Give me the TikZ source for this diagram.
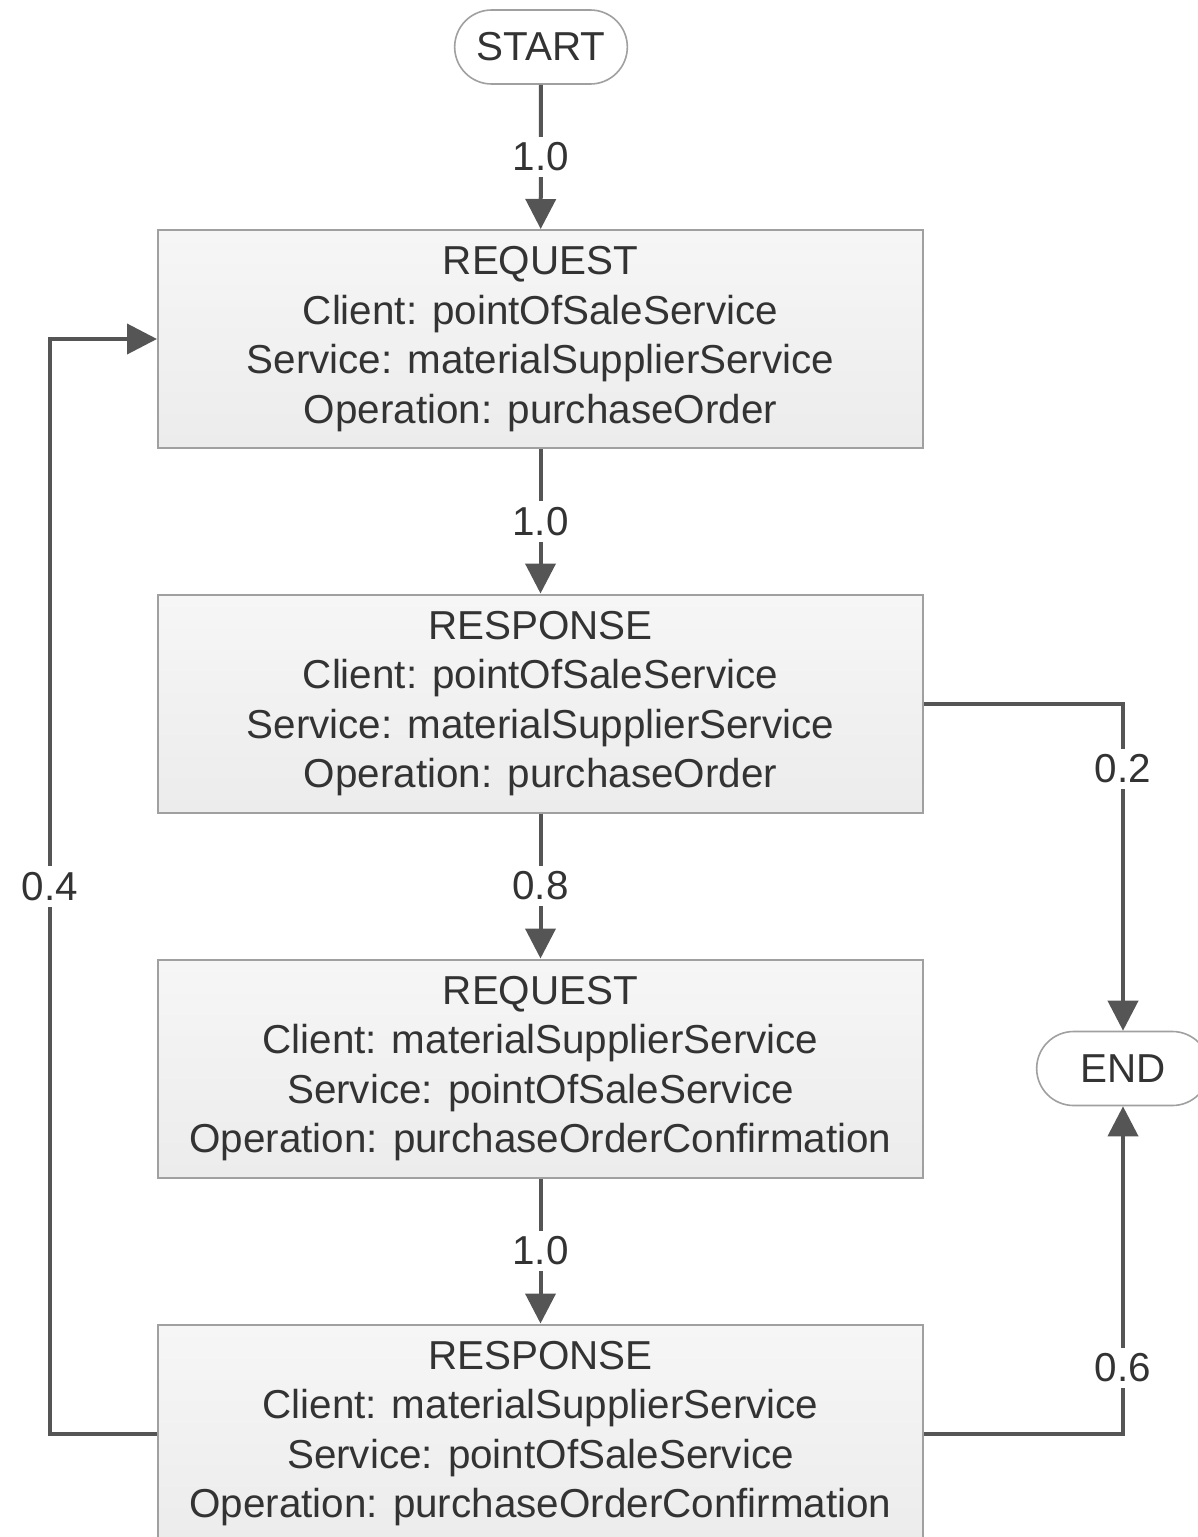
\documentclass[tikz,border=0pt]{standalone}
\usepackage{fontspec}
\setmainfont{Liberation Sans}
\usetikzlibrary{shapes.misc,arrows.meta}
\definecolor{ln}{HTML}{555555}
\definecolor{bx}{HTML}{A0A0A0}
\definecolor{tx}{HTML}{333333}
\newcommand{\fsz}{\fontsize{20.2}{24.75}\selectfont}
\tikzstyle{term}=[rounded rectangle,draw=bx,line width=0.8pt,minimum width=93pt,minimum height=37pt,text=tx,font=\fsz]
\tikzstyle{msg}=[rectangle,draw=bx,line width=1pt,top color=gray!7,bottom color=gray!15,minimum width=382.5pt,minimum height=109pt,align=center,text=tx,font=\fsz]
\tikzstyle{lbl}=[fill=white,text=tx,inner sep=3pt,font=\fsz]
\tikzstyle{ar}=[draw=ln,line width=2pt,-{Triangle[length=15pt,width=15pt]}]

\begin{document}
\begin{tikzpicture}[x=0.5pt,y=-0.5pt]
\useasboundingbox (0,0) rectangle (1198,1537);
\node[term] (start) at (541,47) {START};
\node[msg] (req1) at (540.5,339) {REQUEST\\Client: pointOfSaleService\\Service: materialSupplierService\\Operation: purchaseOrder};
\node[msg] (res1) at (540.5,703.5) {RESPONSE\\Client: pointOfSaleService\\Service: materialSupplierService\\Operation: purchaseOrder};
\node[msg] (req2) at (540.5,1068.5) {REQUEST\\Client: materialSupplierService\\Service: pointOfSaleService\\Operation: purchaseOrderConfirmation};
\node[msg] (res2) at (540.5,1433.5) {RESPONSE\\Client: materialSupplierService\\Service: pointOfSaleService\\Operation: purchaseOrderConfirmation};
\node[term] (end) at (1123,1068.5) {END};
\coordinate (loop) at (50,1433.5);
% transitions with probabilities
\draw[ar] (start) -- node[lbl] {1.0} (req1);
\draw[ar] (req1) -- node[lbl] {1.0} (res1);
\draw[ar] (res1) -- node[lbl] {0.8} (req2);
\draw[ar] (req2) -- node[lbl] {1.0} (res2);
\draw[ar] (res1.east) -| node[lbl,pos=0.6] {0.2} (end.north);
\draw[ar] (res2.east) -| node[lbl,pos=0.6] {0.6} (end.south);
\draw[ar] (res2.west) -- (loop) |- node[lbl,pos=0.25] {0.4} (req1.west);
\end{tikzpicture}
\end{document}
